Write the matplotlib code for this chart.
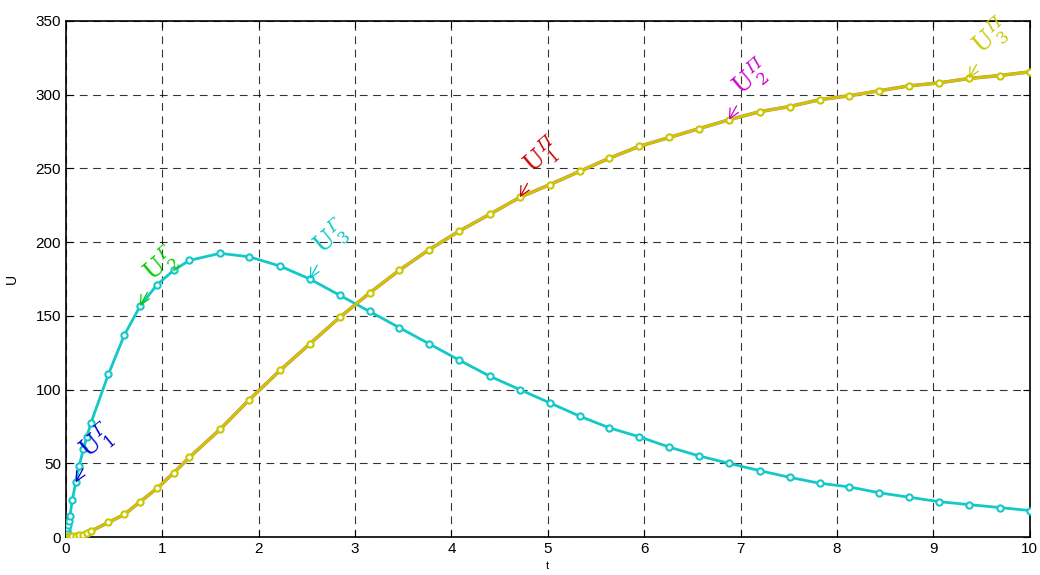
import matplotlib
matplotlib.use('Agg')
import matplotlib.pyplot as plt

plt.rcParams['font.family'] = ['Liberation Sans', 'DejaVu Sans']
plt.rcParams['mathtext.fontset'] = 'dejavuserif'

# Общая сетка времени (решение ОДУ)
t = [0, 0.0025, 0.005, 0.0075, 0.01, 0.015, 0.02, 0.03, 0.04, 0.065, 0.10, 0.135,
     0.18, 0.215, 0.259, 0.439, 0.605, 0.768, 0.944, 1.117, 1.279, 1.598, 1.90,
     2.22, 2.53, 2.84, 3.15, 3.46, 3.77, 4.08, 4.40, 4.71, 5.02, 5.33, 5.64,
     5.95, 6.26, 6.57, 6.88, 7.20, 7.51, 7.82, 8.13, 8.44, 8.75, 9.06, 9.37,
     9.69, 10.0]

# Кривая U^Г (голубая)
u_g = [0, 1, 2, 3, 4, 6, 8, 11, 14, 25, 37, 48,
       59.5, 67.8, 77.5, 110.3, 137, 156.6, 171.1, 180.9, 187.6, 192.4, 190.1,
       183.8, 175, 164, 153, 142, 131, 120, 109, 100, 91, 82, 74,
       68, 61, 55, 50, 45, 40.5, 36.5, 34, 30, 27, 24, 22,
       20, 18]

# Кривая U^П (жёлтая)
u_p = [0, 0, 0, 0, 0, 0, 0.1, 0.2, 0.3, 0.5, 0.8, 1.2,
       1.6, 2.9, 4, 9.9, 15.3, 23.9, 33, 43.5, 54, 73, 93,
       113, 131, 149, 165.5, 181, 195, 207.5, 219, 230.4, 239, 248, 257,
       265, 271, 277, 283, 288.5, 292, 296.6, 299.3, 302.7, 306, 308, 311,
       313, 315.5]

# Подписи: текст, цвет, индекс точки на кривой, какая кривая
labels = [r'$\mathrm{U}^{\,Г}_{\,1}$', r'$\mathrm{U}^{\,Г}_{\,2}$', r'$\mathrm{U}^{\,Г}_{\,3}$',
          r'$\mathrm{U}^{\,П}_{\,1}$', r'$\mathrm{U}^{\,П}_{\,2}$', r'$\mathrm{U}^{\,П}_{\,3}$']
label_colors = ['#0000cc', '#00cc00', '#00c8c8', '#cc0000', '#cc00cc', '#c8c800']
label_idx = [10, 17, 24, 31, 38, 46]
label_curve = ['g', 'g', 'g', 'p', 'p', 'p']

cyan = '#14c8c8'
yellow = '#c8c800'

fig = plt.figure(figsize=(10.4, 5.75), dpi=100)
ax = fig.add_axes([0.0635, 0.066, 0.9265, 0.8975])

ax.plot(t, u_g, color=cyan, lw=2, marker='o', ms=4.5, mfc='white',
        mec=cyan, mew=1.5, zorder=3)
ax.plot(t, u_p, color='#e07070', lw=2.5, zorder=2)
ax.plot(t, u_p, color=yellow, lw=2, marker='o', ms=4.5, mfc='white',
        mec=yellow, mew=1.5, zorder=3)

for txt, col, i, c in zip(labels, label_colors, label_idx, label_curve):
    y = u_g[i] if c == 'g' else u_p[i]
    ax.annotate(txt, xy=(t[i], y), xytext=(13, 12), textcoords='offset points',
                color=col, fontsize=17, rotation=40, ha='left', va='bottom',
                rotation_mode='anchor',
                arrowprops=dict(arrowstyle='->', color=col, lw=0.9,
                                shrinkA=0, shrinkB=0), zorder=4)

ax.set_xlim(0, 10)
ax.set_ylim(0, 350)
ax.set_xticks(range(0, 11))
ax.set_yticks(range(0, 351, 50))
ax.grid(True, color='black', linestyle=(0, (7, 5)), lw=0.8, alpha=0.8)
ax.tick_params(direction='in', top=True, right=True, labelsize=11, length=5)
for s in ax.spines.values():
    s.set_linewidth(1.2)
ax.set_xlabel('t', fontsize=8, labelpad=4)
ax.set_ylabel('U', fontsize=10, labelpad=12)

fig.savefig('out.png', dpi=100)
